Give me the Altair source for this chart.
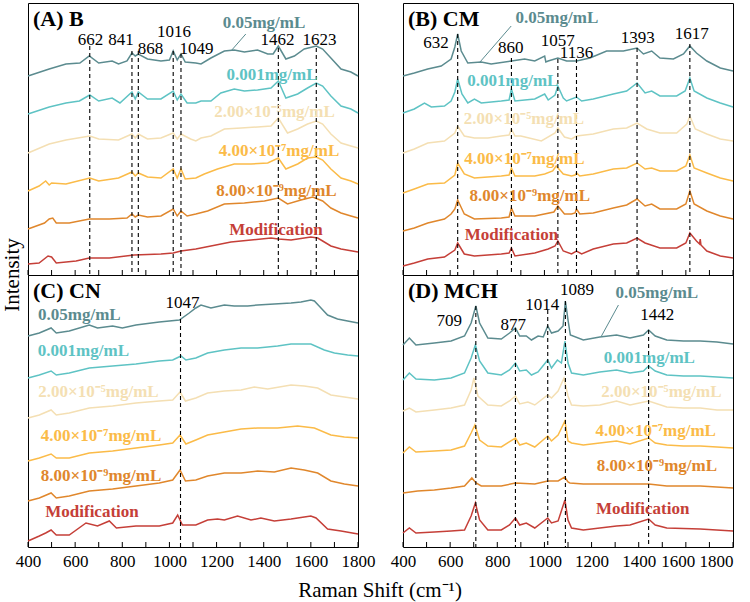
import altair as alt
import pandas as pd

FONT = "Liberation Serif"
W, H = 330, 272

SERIES = ["0.05mg/mL", "0.001mg/mL", "2.00×10⁻⁵mg/mL", "4.00×10⁻⁷mg/mL", "8.00×10⁻⁹mg/mL", "Modification"]
COLORS = ["#5b8b8f", "#5ec3c4", "#f4dfb3", "#fbbb48", "#e0872c", "#c53f38"]

# ---------------- Panel A (B) ----------------
A1_w = [400,490,561,620,660,700,757,784,820,841,855,868,907,964,1000,1016,1033,1049,1067,1112,1134,1176,1233,1275,1318,1374,1417,1440,1462,1494,1530,1572,1623,1650,1685,1728,1770,1800]
A1_h = [199,206,211,212,219,212,214,211,214,222,219,221,216,214,215,224,215,221,213,212,211,217,224,225,223,225,221,221,229,216,219,226,229,226,217,206,203,199]
A2_w = [400,490,561,618,662,700,757,790,841,855,868,907,964,1016,1033,1049,1075,1112,1134,1176,1218,1275,1318,1374,1431,1462,1494,1544,1586,1623,1650,1685,1728,1770,1800]
A2_h = [161,168,172,174,180,174,177,172,183,176,183,176,176,184,175,181,172,172,174,174,182,186,184,185,187,194,177,181,187,192,189,179,169,166,162]
A3_w = [400,490,561,662,700,784,841,855,868,907,964,1016,1033,1049,1090,1112,1134,1176,1233,1304,1374,1431,1462,1501,1544,1586,1623,1650,1685,1728,1770,1800]
A3_h = [122,131,135,139,136,135,141,137,141,136,137,142,136,141,136,134,137,139,146,147,148,149,157,142,146,151,154,151,141,132,129,127]
A4_w = [400,447,475,490,500,561,662,700,784,841,855,868,907,964,1016,1033,1049,1067,1112,1148,1204,1275,1346,1417,1462,1494,1544,1586,1623,1650,1685,1728,1770,1800]
A4_h = [84,89,94,90,92,91,97,94,97,103,99,102,98,97,106,97,106,96,97,101,106,111,111,112,117,106,111,117,118,115,106,97,94,91]
A5_w = [400,470,490,505,520,575,660,745,820,841,855,868,907,964,1016,1033,1049,1075,1112,1162,1233,1318,1403,1462,1501,1558,1608,1650,1685,1728,1770,1800]
A5_h = [46,52,56,57,52,52,56,56,57,61,58,60,58,59,66,59,64,59,61,64,71,72,74,77,71,75,78,74,67,62,59,57]
A6_w = [400,447,485,500,520,604,660,745,850,964,1016,1049,1112,1176,1261,1346,1431,1462,1516,1600,1629,1650,1685,1728,1800]
A6_h = [11,12,19,18,12,14,17,17,20,21,22,24,26,29,33,35,37,36,35,38,37,34,29,26,23]
A_peak_w = [662, 841, 868, 1016, 1049, 1462, 1623]
A_peak_top = [229, 224, 224, 224, 221, 227, 227]
A_plab_w = [665, 795, 920, 1019, 1115, 1458, 1637]
A_plab_h = [235, 235, 226.5, 243, 226.5, 235, 235]
A_slab_w = [1401, 1435, 1446, 1465, 1454, 1452]
A_slab_h = [252.5, 200.5, 163.5, 124, 84, 45.5]
A_leader = [1261, 224, 1324, 241]

# ---------------- Panel B (CM) ----------------
B1_w = [400,448,505,562,604,620,632,647,675,732,774,860,916,959,1001,1006,1016,1057,1094,1136,1193,1264,1335,1393,1420,1455,1490,1547,1590,1617,1645,1689,1746,1800]
B1_h = [199,202,206,209,216,228,241,224,212,213,211,214,216,214,219,213,214,217,214,214,217,224,224,227,221,224,217,216,221,229,222,214,207,204]
B2_w = [400,448,491,520,576,604,620,632,650,675,703,732,817,850,860,875,959,1001,1016,1045,1057,1080,1094,1136,1158,1207,1292,1349,1393,1427,1455,1490,1561,1597,1617,1635,1689,1746,1800]
B2_h = [162,166,172,168,169,174,183,196,181,172,176,172,174,175,186,174,176,181,175,180,189,177,174,178,174,176,181,184,192,182,184,179,179,184,197,184,177,172,168]
B3_w = [400,448,505,576,620,632,660,703,760,817,850,860,875,900,987,1045,1057,1085,1115,1136,1207,1292,1349,1393,1434,1490,1561,1604,1617,1640,1689,1746,1800]
B3_h = [122,126,132,134,142,149,139,137,137,139,140,146,139,139,134,142,147,138,136,139,141,146,147,152,146,142,142,151,159,146,141,136,134]
B4_w = [400,448,505,576,620,632,660,703,817,850,860,875,959,1001,1035,1050,1080,1115,1130,1136,1150,1207,1292,1349,1393,1427,1455,1490,1561,1600,1617,1635,1689,1746,1800]
B4_h = [82,86,91,92,100,112,101,97,99,100,107,99,99,101,104,109,101,99,100,102,99,101,106,107,112,106,107,104,104,109,120,107,102,97,94]
B5_w = [400,448,505,576,604,620,632,660,703,817,850,860,875,959,1040,1057,1085,1115,1130,1136,1150,1207,1292,1349,1393,1427,1455,1490,1561,1600,1617,1635,1689,1746,1800]
B5_h = [44,47,52,56,61,66,75,61,56,57,58,67,59,59,63,69,61,61,62,66,61,62,67,70,76,69,71,66,66,71,84,71,64,59,56]
B6_w = [400,448,505,576,620,632,660,703,817,850,860,875,959,1016,1045,1057,1080,1115,1136,1158,1207,1292,1349,1393,1427,1490,1561,1600,1617,1645,1658,1661,1664,1689,1746,1800]
B6_h = [9,12,16,18,25,32,21,19,21,22,27,19,22,26,29,34,24,21,24,21,26,31,32,37,32,27,27,32,42,34,31,36,30,24,19,17]
B_peak_w = [632, 860, 1057, 1136, 1393, 1617]
B_peak_top = [241, 217, 216, 216, 227, 231]
B_plab_w = [540, 857, 1057, 1136, 1396, 1625]
B_plab_h = [232.5, 227.5, 234.5, 222.5, 237.5, 241]
B_slab_w = [1053, 866, 913, 915, 938, 860]
B_slab_h = [257, 194, 156.5, 116.5, 79, 40]
B_leader = [723, 212, 859, 249]

# ---------------- Panel C (CN) ----------------
C1_w = [400,448,498,520,575,660,695,759,800,858,957,1042,1084,1112,1134,1176,1233,1275,1332,1374,1445,1516,1558,1600,1615,1643,1671,1713,1756,1800]
C1_h = [211,214,219,214,216,222,219,221,219,222,225,227,234,239,242,239,242,241,241,242,243,244,245,247,246,239,232,228,226,224]
C2_w = [400,448,498,520,575,660,759,858,957,1014,1049,1070,1112,1162,1233,1304,1374,1459,1516,1600,1657,1700,1756,1800]
C2_h = [169,172,176,172,174,179,181,183,186,187,191,187,189,194,197,199,199,201,203,203,197,194,192,191]
C3_w = [400,448,498,520,575,660,759,858,957,1014,1045,1068,1112,1162,1233,1304,1360,1417,1516,1572,1629,1685,1742,1800]
C3_h = [129,132,137,132,134,139,141,144,146,147,155,146,149,154,156,157,160,158,162,161,159,152,150,148]
C4_w = [400,448,498,520,575,660,759,858,957,1014,1045,1070,1112,1162,1233,1304,1374,1459,1544,1615,1685,1742,1800]
C4_h = [86,89,93,89,89,94,96,99,102,104,112,103,107,112,115,118,119,119,121,119,112,110,109]
C5_w = [400,448,498,520,575,660,759,858,957,1014,1045,1068,1112,1162,1233,1304,1374,1445,1516,1572,1629,1685,1742,1800]
C5_h = [46,49,54,49,51,56,58,61,64,67,77,66,67,71,74,74,76,75,79,77,74,66,63,61]
C6_w = [400,448,475,498,520,575,646,695,745,775,858,957,1014,1035,1055,1112,1162,1204,1233,1289,1346,1388,1445,1516,1572,1600,1622,1671,1728,1800]
C6_h = [6,11,14,17,12,12,24,21,26,19,21,21,24,32,22,22,27,28,27,31,27,29,26,28,30,31,29,18,16,13]
C_peak_w = [1047]
C_peak_top = [235]
C_plab_w = [1055]
C_plab_h = [244.5]
C_slab_w = [618, 635, 699, 710, 710, 671.5]
C_slab_h = [232.5, 196, 155.5, 111.5, 71, 35.5]

# ---------------- Panel D (MCH) ----------------
D1_w = [400,427,455,533,604,661,689,709,725,760,817,852,877,895,923,945,973,995,1014,1030,1058,1079,1089,1100,1110,1165,1235,1306,1363,1420,1442,1470,1519,1590,1661,1732,1800]
D1_h = [202,209,202,204,206,211,224,241,224,209,208,214,219,211,211,207,211,210,221,214,216,221,246,227,212,207,210,212,209,212,217,211,207,206,206,205,203]
D2_w = [400,427,455,533,604,661,689,707,725,760,817,852,877,895,923,945,973,1014,1030,1055,1072,1087,1100,1115,1165,1235,1306,1363,1420,1442,1470,1519,1590,1661,1732,1800]
D2_h = [167,174,168,167,169,174,189,202,186,174,172,177,184,176,177,172,175,187,179,187,184,206,184,174,172,175,177,174,176,181,176,172,171,171,170,169]
D3_w = [400,427,455,533,604,661,689,701,718,760,817,852,877,895,930,959,1014,1030,1058,1083,1100,1115,1165,1235,1306,1363,1442,1519,1590,1661,1732,1800]
D3_h = [136,139,135,137,139,142,157,169,151,142,141,146,151,143,145,142,152,149,156,169,151,142,141,142,146,142,146,140,139,139,137,137]
D4_w = [400,427,455,533,604,661,689,705,725,760,817,877,895,923,959,1014,1030,1058,1087,1100,1115,1165,1235,1306,1363,1442,1470,1519,1590,1661,1732,1800]
D4_h = [94,100,95,96,97,101,114,122,107,101,100,109,102,104,100,111,106,112,126,106,104,102,104,106,103,109,104,102,101,101,100,99]
D5_w = [400,462,533,604,661,692,710,732,817,877,959,1014,1058,1086,1100,1108,1165,1235,1306,1442,1519,1661,1800]
D5_h = [54,56,57,59,61,69,64,61,61,64,63,66,66,70,65,64,63,63,63,63,61,61,59]
D6_w = [400,427,455,533,604,661,689,707,725,760,817,852,877,895,923,959,1014,1030,1058,1087,1100,1115,1165,1235,1306,1363,1442,1470,1519,1661,1800]
D6_h = [14,19,14,15,16,17,31,44,27,17,17,22,29,22,24,19,29,24,26,47,27,19,17,19,21,22,28,22,19,18,16]
D_peak_w = [709, 877, 1014, 1089, 1442]
D_peak_top = [241, 219, 237, 246, 217]
D_plab_w = [596, 868, 991, 1138, 1479]
D_plab_h = [226, 222.5, 242.5, 257.5, 232.5]
D_slab_w = [1477, 1445, 1496, 1472, 1477, 1417]
D_slab_h = [254.5, 189, 155.5, 116.5, 81.5, 38.5]
D_leader = [1242, 211, 1314, 242]

TICKS = list(range(400, 1801, 100))
TICK_LABELS = list(range(400, 1801, 200))

color_scale = alt.Scale(domain=SERIES, range=COLORS)


def panel(traces, peak_w, peak_top, plab_w, plab_h, slab_w, slab_h, leader, title, bottom,
          flush_last=False, extra=None):
    xs = alt.Scale(domain=[400, 1800], nice=False, zero=False)
    ys = alt.Scale(domain=[0, H], nice=False, zero=False)
    if bottom:
        kw = dict(values=TICK_LABELS, format="d", labelFont=FONT, labelFontSize=17, labelColor="black",
                  ticks=False, domain=False, grid=False, title=None, labelPadding=6, labelFlush=False,
                  labelOverlap=False, labelBound=False)
        if flush_last:
            kw["labelAlign"] = {"condition": {"test": "datum.value == 1800", "value": "right"}, "value": "center"}
            kw["labelOffset"] = {"condition": {"test": "datum.value == 1600", "value": -8}, "value": 0}
        ax = alt.Axis(**kw)
    else:
        ax = None

    def X(f):
        return alt.X(f, type="quantitative", scale=xs, axis=ax)

    def Y(f):
        return alt.Y(f, type="quantitative", scale=ys, axis=None)

    rows = []
    for s, (ws, hs) in zip(SERIES, traces):
        for w, h in zip(ws, hs):
            rows.append({"w": w, "h": h, "s": s})
    df = pd.DataFrame(rows)

    lines = alt.Chart(df).mark_line(strokeWidth=1.5).encode(
        x=X("w"), y=Y("h"),
        color=alt.Color("s:N", scale=color_scale, legend=None),
        detail="s:N")

    pk = pd.DataFrame({"w": peak_w, "top": peak_top})
    dashed = alt.Chart(pk).mark_rule(color="black", strokeDash=[4, 3], strokeWidth=1.1).encode(
        x=X("w"), y=Y("top"), y2=alt.datum(0))

    tk = pd.DataFrame({"w": TICKS})
    ticks = alt.Chart(tk).mark_rule(color="black", strokeWidth=1).encode(
        x=X("w"), y=alt.value(H), y2=alt.value(H - 5))

    pl = pd.DataFrame({"w": plab_w, "h": plab_h, "t": [str(p) for p in peak_w]})
    plabels = alt.Chart(pl).mark_text(font=FONT, fontSize=17, color="black", baseline="middle", align="center").encode(
        x=X("w"), y=Y("h"), text="t:N")

    sl = pd.DataFrame({"w": slab_w, "h": slab_h, "s": SERIES})
    slabels = alt.Chart(sl).mark_text(font=FONT, fontSize=17, fontWeight="bold", baseline="middle", align="center").encode(
        x=X("w"), y=Y("h"), text="s:N",
        color=alt.Color("s:N", scale=color_scale, legend=None))

    layers = [lines, dashed, ticks]
    if leader:
        ld = pd.DataFrame({"w1": [leader[0]], "h1": [leader[1]], "w2": [leader[2]], "h2": [leader[3]]})
        layers.append(alt.Chart(ld).mark_rule(color=COLORS[0], strokeWidth=1).encode(
            x=X("w1"), y=Y("h1"), x2="w2", y2="h2"))
    layers += [plabels, slabels]

    tt = alt.Chart(pd.DataFrame({"t": [title]})).mark_text(
        font=FONT, fontSize=22, fontWeight="bold", align="left", baseline="middle", color="black").encode(
        x=alt.value(5), y=alt.value(16), text="t:N")
    layers.append(tt)
    if extra is not None:
        layers.append(extra)
    return alt.layer(*layers).properties(width=W, height=H)


ylab = alt.Chart(pd.DataFrame({"t": ["Intensity"]})).mark_text(
    font=FONT, fontSize=21, angle=270, align="center", baseline="middle", color="black").encode(
    x=alt.value(-15), y=alt.value(H), text="t:N")
xlab = alt.Chart(pd.DataFrame({"t": ["Raman Shift (cm⁻¹)"]})).mark_text(
    font=FONT, fontSize=21, align="center", baseline="middle", color="black").encode(
    x=alt.value(W + 22), y=alt.value(H + 44), text="t:N")

pA = panel([(A1_w, A1_h), (A2_w, A2_h), (A3_w, A3_h), (A4_w, A4_h), (A5_w, A5_h), (A6_w, A6_h)],
           A_peak_w, A_peak_top, A_plab_w, A_plab_h, A_slab_w, A_slab_h, A_leader, "(A) B", False, extra=ylab)
pB = panel([(B1_w, B1_h), (B2_w, B2_h), (B3_w, B3_h), (B4_w, B4_h), (B5_w, B5_h), (B6_w, B6_h)],
           B_peak_w, B_peak_top, B_plab_w, B_plab_h, B_slab_w, B_slab_h, B_leader, "(B) CM", False)
pC = panel([(C1_w, C1_h), (C2_w, C2_h), (C3_w, C3_h), (C4_w, C4_h), (C5_w, C5_h), (C6_w, C6_h)],
           C_peak_w, C_peak_top, C_plab_w, C_plab_h, C_slab_w, C_slab_h, None, "(C) CN", True, extra=xlab)
pD = panel([(D1_w, D1_h), (D2_w, D2_h), (D3_w, D3_h), (D4_w, D4_h), (D5_w, D5_h), (D6_w, D6_h)],
           D_peak_w, D_peak_top, D_plab_w, D_plab_h, D_slab_w, D_slab_h, D_leader, "(D) MCH", True,
           flush_last=True)

chart = alt.concat(pA, pB, pC, pD, columns=2, spacing={"row": 0, "column": 45}, bounds="flush").properties(
    padding={"left": 1, "top": 2, "right": 0, "bottom": 0},
).configure_view(stroke="black", strokeWidth=1).configure_axis(grid=False)

chart.save("out.html", embed_options={"renderer": "svg", "actions": False})
